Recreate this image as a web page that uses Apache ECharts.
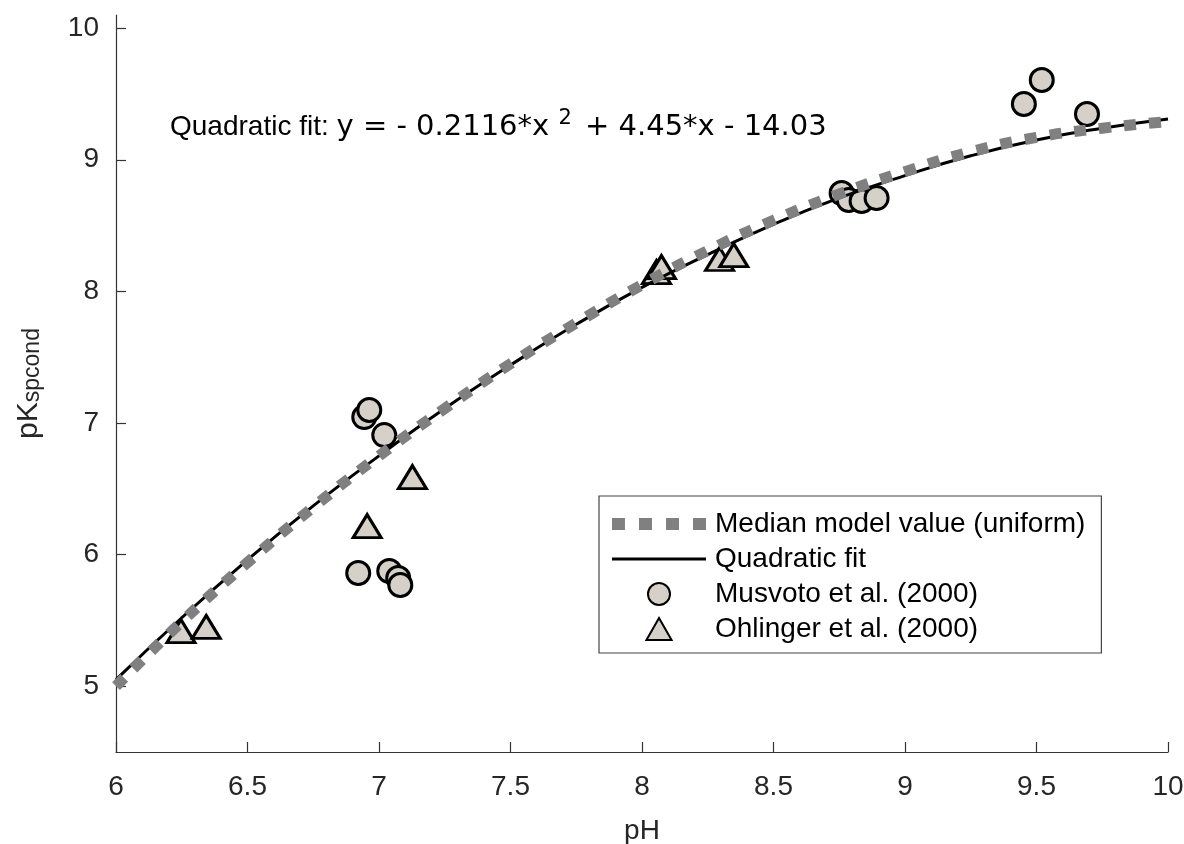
<!DOCTYPE html>
<html>
<head>
<meta charset="utf-8">
<script src="https://cdn.jsdelivr.net/npm/echarts@6/dist/echarts.min.js"></script>
<style>
html,body{margin:0;padding:0;background:#fff;}
#c{width:1184px;height:844px;}
</style>
</head>
<body>
<div id="c"></div>
<script>
// Data
var curveX = [6, 6.25, 6.5, 6.75, 7, 7.25, 7.5, 7.75, 8, 8.25, 8.5, 8.75, 9, 9.25, 9.5, 9.75, 10];
var medianY = [5.00, 5.49, 5.94, 6.36, 6.75, 7.11, 7.45, 7.76, 8.05, 8.31, 8.54, 8.74, 8.91, 9.06, 9.17, 9.24, 9.29];
var fitY = [5.05, 5.52, 5.96, 6.37, 6.75, 7.11, 7.44, 7.75, 8.03, 8.28, 8.51, 8.71, 8.88, 9.03, 9.15, 9.24, 9.31];

var musvotoX = [6.944, 6.963, 7.020, 6.921, 7.039, 7.073, 7.081, 8.759, 8.786, 8.835, 8.892, 9.452, 9.520, 9.692];
var musvotoY = [7.045, 7.099, 6.908, 5.860, 5.875, 5.822, 5.769, 8.747, 8.694, 8.687, 8.709, 9.424, 9.606, 9.348];

var ohlingerX = [6.247, 6.343, 6.955, 7.127, 8.055, 8.074, 8.295, 8.349];
var ohlingerY = [5.419, 5.450, 6.217, 6.589, 8.147, 8.185, 8.246, 8.276];

var xTicks = [6, 6.5, 7, 7.5, 8, 8.5, 9, 9.5, 10];
var yTicks = [5, 6, 7, 8, 9, 10];

var seriesNames = ['Median model value (uniform)', 'Quadratic fit', 'Musvoto et al. (2000)', 'Ohlinger et al. (2000)'];

function pairs(xs, ys) { return xs.map(function (x, i) { return [x, ys[i]]; }); }

var FONT = 'Liberation Sans';
var MFONT = 'DejaVu Sans';
var AXC = '#262626';
var FILL = '#d5d1c9';

var chart = echarts.init(document.getElementById('c'), null, { renderer: 'canvas' });
chart.setOption({
  animation: false,
  backgroundColor: '#ffffff',
  grid: { left: 116, right: 16, top: 15, bottom: 92, containLabel: false, outerBoundsMode: 'none' },
  xAxis: {
    type: 'value', min: 6, max: 10, interval: 0.5,
    name: 'pH', nameLocation: 'middle', nameGap: 65,
    nameTextStyle: { fontFamily: FONT, fontSize: 28, color: AXC },
    axisLine: { lineStyle: { color: '#333', width: 1.2 } },
    axisTick: { inside: true, length: 10, lineStyle: { color: '#333', width: 1.2 } },
    axisLabel: { fontFamily: FONT, fontSize: 28, color: AXC, margin: 21,
      customValues: xTicks },
    splitLine: { show: false }
  },
  yAxis: {
    type: 'value', min: 4.5, max: 10.1,
    name: '{a|pK}{b|spcond}', nameLocation: 'middle', nameGap: 72, nameRotate: 90,
    nameTextStyle: {
      fontFamily: FONT, color: AXC,
      rich: {
        a: { fontFamily: FONT, fontSize: 30, lineHeight: 36, verticalAlign: 'bottom', color: AXC },
        b: { fontFamily: FONT, fontSize: 23, lineHeight: 23, verticalAlign: 'bottom', color: AXC }
      }
    },
    axisLine: { show: true, lineStyle: { color: '#333', width: 1.2 } },
    axisTick: { show: true, inside: true, length: 10, lineStyle: { color: '#333', width: 1.2 }, customValues: yTicks },
    axisLabel: { fontFamily: FONT, fontSize: 28, color: AXC, margin: 17, customValues: yTicks },
    splitLine: { show: false }
  },
  legend: {
    orient: 'vertical', left: 599, top: 496,
    padding: [14, 16, 10, 13],
    itemWidth: 94, itemHeight: 22, itemGap: 7,
    backgroundColor: '#ffffff', borderColor: '#444', borderWidth: 1.2,
    borderRadius: 0,
    textStyle: { fontFamily: FONT, fontSize: 28, color: '#000', padding: [0, 0, 0, 4] },
    data: [
      { name: seriesNames[0], icon: 'path://M0,0h12v11h-12z M25,0h12v11h-12z M50,0h12v11h-12z M75,0h12v11h-12z' },
      { name: seriesNames[1], icon: 'path://M0,0h94v3h-94z' },
      { name: seriesNames[2], icon: 'circle' },
      { name: seriesNames[3], icon: 'path://M12,0L24,21L0,21Z' }
    ]
  },
  graphic: [{
    type: 'text', x: 170, y: 127,
    style: {
      text: '{n|Quadratic fit: }{m|y = - 0.2116*x }{s|2}{m| + 4.45*x - 14.03}',
      verticalAlign: 'middle',
      rich: {
        n: { fontFamily: FONT, fontSize: 28, color: '#000' },
        m: { fontFamily: MFONT, fontSize: 29, color: '#000' },
        s: { fontFamily: MFONT, fontSize: 21, color: '#000', padding: [0, 4, 16, 0] }
      }
    }
  }],
  series: [
    {
      name: seriesNames[2], type: 'scatter', z: 2,
      symbol: 'circle', symbolSize: 23,
      itemStyle: { color: FILL, borderColor: '#000', borderWidth: 3, opacity: 1 },
      data: pairs(musvotoX, musvotoY)
    },
    {
      name: seriesNames[3], type: 'scatter', z: 2,
      symbol: 'triangle', symbolSize: [28, 23],
      itemStyle: { color: FILL, borderColor: '#000', borderWidth: 3, opacity: 1 },
      data: pairs(ohlingerX, ohlingerY)
    },
    {
      name: seriesNames[1], type: 'line', z: 3, smooth: true,
      symbol: 'none', showSymbol: false,
      itemStyle: { color: '#000' },
      lineStyle: { color: '#000', width: 3 },
      data: pairs(curveX, fitY)
    },
    {
      name: seriesNames[0], type: 'line', z: 4, smooth: true,
      symbol: 'none', showSymbol: false,
      itemStyle: { color: '#808080' },
      lineStyle: { color: '#808080', width: 11, type: [12, 13], cap: 'butt' },
      data: pairs(curveX, medianY)
    }
  ]
});
</script>
</body>
</html>
